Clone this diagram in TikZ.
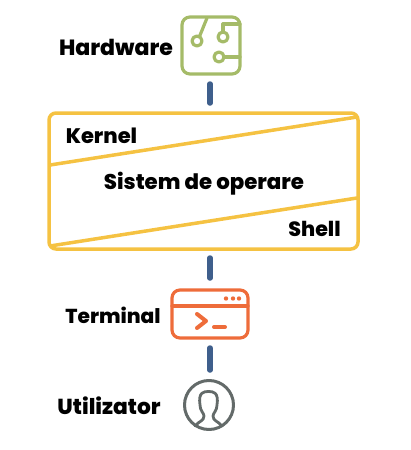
\documentclass[tikz,border=0pt]{standalone}
\usepackage{fontspec}
\setmainfont{Poppins}[BoldFont=Poppins-ExtraBold]
\definecolor{hwgreen}{HTML}{A5BB68}
\definecolor{osyellow}{HTML}{F5C242}
\definecolor{linkblue}{HTML}{3F5F8C}
\definecolor{termorange}{HTML}{EE6C3A}
\definecolor{usergrey}{HTML}{636A69}
\tikzset{
 lbl/.style={font=\bfseries\fontsize{#1}{22}\selectfont,text=black,inner sep=0pt},
 link/.style={draw=linkblue,line width=5.5pt,line cap=round},
 osline/.style={draw=osyellow,line width=3.5pt},
 hwline/.style={draw=hwgreen,line width=3.2pt,line cap=round,line join=round},
 termline/.style={draw=termorange,line width=3.2pt,line cap=round,line join=round},
 userline/.style={draw=usergrey,line width=3pt,line cap=round,line join=round}
}
\begin{document}
\begin{tikzpicture}[x=1pt,y=-1pt]
\useasboundingbox (0,0) rectangle (411,450);
% hardware icon
\draw[hwline,rounded corners=8pt] (182,17) rectangle (240,74);
\coordinate (hw1) at (197,41);
\coordinate (hw2) at (223,37);
\coordinate (hw3) at (219,57);
\draw[hwline] (hw1) circle (5pt) (hw2) circle (5pt) (hw3) circle (5pt);
\draw[hwline] (207,18) -- (199.5,36.5);
\draw[hwline] (223,32) -- (223,24) -- (240,24);
\draw[hwline] (224,57) -- (240,57);
\node[lbl=22] (hardware) at (116,47) {Hardware};
\coordinate (hwbottom) at (210,84);
\coordinate (ostop) at (210,103);
\draw[link] (hwbottom) -- (ostop);
% os box
\draw[osline,rounded corners=7pt] (49,113) rectangle (358,249);
\draw[osline] (50,165) -- (357,117);
\draw[osline] (50,246) -- (357,198);
\node[lbl=21] (kernel) at (101.5,136) {Kernel};
\node[lbl=21.3] (os) at (204,184) {Sistem de operare};
\node[lbl=20.6] (shell) at (314.5,229) {Shell};
\coordinate (osbottom) at (210,258);
\coordinate (termtop) at (210,278);
\draw[link] (osbottom) -- (termtop);
% terminal icon
\draw[termline,rounded corners=8pt] (172,290) rectangle (248,338);
\draw[termline] (172,306) -- (248,306);
\fill[termorange] (226,298.5) circle (2.2pt) (233,298.5) circle (2.2pt) (239,298.5) circle (2.2pt);
\draw[termline,line width=4pt] (197,314) -- (206,321) -- (197,328);
\draw[termline,line width=4pt] (214,327) -- (225,327);
\node[lbl=20.2] (terminal) at (113,315) {Terminal};
\coordinate (termbottom) at (210,348);
\coordinate (usertop) at (210,370);
\draw[link] (termbottom) -- (usertop);
% user icon
\draw[userline] (209,405) circle (24.5pt);
\draw[userline,line width=2.8pt] (195,426) .. controls (199,421) and (204,421) .. (204,416)
  .. controls (204,413) and (200,411) .. (200,405)
  .. controls (198,392) and (204,391.5) .. (208.5,391.5)
  .. controls (213,391.5) and (219,392) .. (217,405)
  .. controls (217,411) and (213,413) .. (213,416)
  .. controls (213,421) and (218,421) .. (222,426);
\node[lbl=21.7] (user) at (109,406) {Utilizator};
\end{tikzpicture}
\end{document}
